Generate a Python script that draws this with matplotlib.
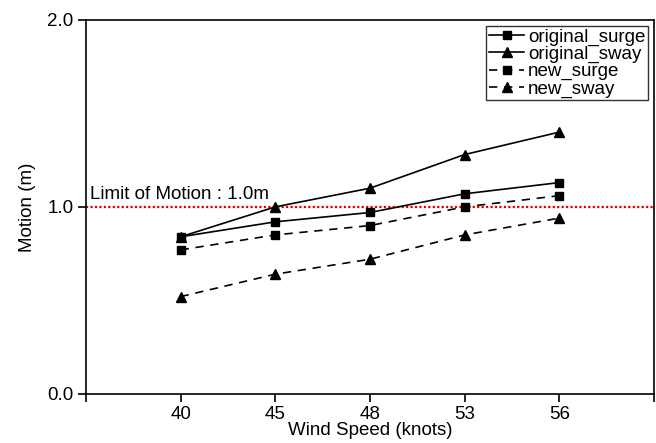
import numpy as np
import matplotlib
matplotlib.use('Agg')
import matplotlib.pyplot as plt

wind_speed = ['40', '45', '48', '53', '56']
original_surge = [0.84, 0.92, 0.97, 1.07, 1.13]
original_sway = [0.84, 1.00, 1.10, 1.28, 1.40]
new_surge = [0.77, 0.85, 0.90, 1.00, 1.06]
new_sway = [0.52, 0.64, 0.72, 0.85, 0.94]
limit = 1.0

plt.rcParams['font.family'] = ['Liberation Sans', 'DejaVu Sans']
plt.rcParams['font.size'] = 13.5

fig = plt.figure(figsize=(6.56, 4.43), dpi=100)
ax = fig.add_axes([0.131, 0.111, 0.866, 0.844])

x = np.arange(len(wind_speed))
ax.plot(x, original_surge, color='black', marker='s', markersize=6, lw=1.2, linestyle='-', label='original_surge')
ax.plot(x, original_sway, color='black', marker='^', markersize=6.5, lw=1.2, linestyle='-', label='original_sway')
ax.plot(x, new_surge, color='black', marker='s', markersize=6, lw=1.2, linestyle=(0, (5, 4)), label='new_surge')
ax.plot(x, new_sway, color='black', marker='^', markersize=6.5, lw=1.2, linestyle=(0, (5, 4)), label='new_sway')

# limit line
ax.axhline(limit, color='#e00000', linestyle=(0, (1, 1)), lw=1.6, zorder=1)
ax.text(-0.96, limit + 0.02, 'Limit of Motion : 1.0m', fontsize=13.5, va='bottom', ha='left')

ax.set_xlim(-1, 5)
ax.set_xticks(np.arange(-1, 6))
ax.set_xticklabels([''] + wind_speed + [''])
ax.set_ylim(0, 2.0)
ax.set_yticks([0.0, 1.0, 2.0])
ax.set_yticklabels(['0.0', '1.0', '2.0'])
ax.tick_params(direction='out', length=6, width=1.2, labelsize=13.5, pad=3)
for s in ax.spines.values():
    s.set_linewidth(1.2)

ax.set_xlabel('Wind Speed (knots)', fontsize=13.5, labelpad=-1)
ax.set_ylabel('Motion (m)', fontsize=13.5, labelpad=8)

leg = ax.legend(loc='upper right', fontsize=13.5, frameon=True, fancybox=False,
                edgecolor='black', borderaxespad=0.3, handlelength=1.9,
                labelspacing=0.0, borderpad=0.15, handletextpad=0.2)
leg.get_frame().set_linewidth(1.0)

plt.savefig('out.png', dpi=100)
